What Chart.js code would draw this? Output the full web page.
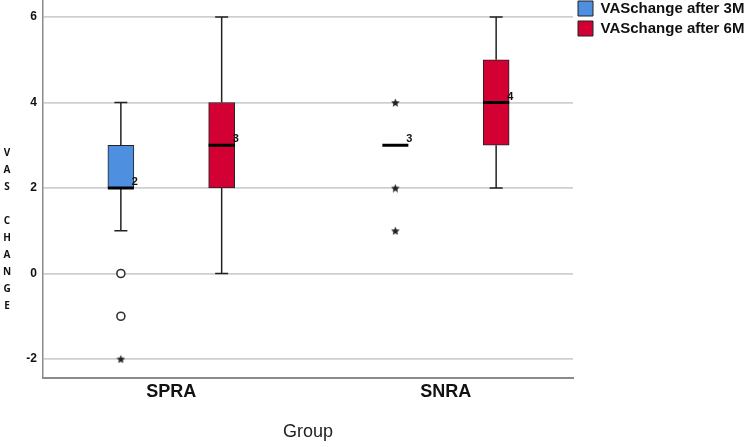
<!DOCTYPE html>
<html>
<head>
<meta charset="utf-8">
<script src="https://cdn.jsdelivr.net/npm/chart.js@4/dist/chart.umd.min.js"></script>
<style>
  html, body { margin: 0; padding: 0; background: #fff; }
  #wrap { width: 750px; height: 447px; }
</style>
</head>
<body>
<div id="wrap"><canvas id="chart-vas-change"></canvas></div>
<script>
// groups and series
const groups = ['SPRA', 'SNRA'];
const seriesNames = ['VASchange after 3M', 'VASchange after 6M'];

// box plot summary
const whiskerLow3M = [1, 3];
const q1_3M = [2, 3];
const median3M = [2, 3];
const q3_3M = [3, 3];
const whiskerHigh3M = [4, 3];

const whiskerLow6M = [0, 2];
const q1_6M = [2, 3];
const median6M = [3, 4];
const q3_6M = [4, 5];
const whiskerHigh6M = [6, 6];

// outliers (circles) and extremes (stars), per group
const outliers3M = [[0, -1], []];
const extremes3M = [[-2], [4, 2, 1]];

// the little numbers SPSS prints next to the medians
const medianLabels3M = ['2', '3'];
const medianLabels6M = ['3', '4'];

const yTicks = [-2, 0, 2, 4, 6];
const yTitle = 'VAS CHANGE';
const xTitle = 'Group';

const boxColors = ['#4f8fe0', '#d30034'];
const groupOffset = 0.1836; // each box sits this far left / right of the group centre

function boxData(lo, hi, shift) {
  return groups.map((g, i) => ({ x: i + 1 + shift, y: [lo[i], hi[i]] }));
}

function pointData(list, shift) {
  const out = [];
  list.forEach((vals, i) => vals.forEach(v => out.push({ x: i + 1 + shift, y: v })));
  return out;
}

// five point star for the extreme values
function makeStar(size) {
  const c = document.createElement('canvas');
  c.width = size;
  c.height = size;
  const g = c.getContext('2d');
  const r = size / 2, ri = r * 0.45;
  g.beginPath();
  for (let k = 0; k < 10; k++) {
    const rad = k % 2 ? ri : r;
    const a = -Math.PI / 2 + k * Math.PI / 5;
    g.lineTo(r + rad * Math.cos(a), r + 0.5 + rad * Math.sin(a));
  }
  g.closePath();
  g.fillStyle = '#222';
  g.fill();
  return c;
}
const starImg = makeStar(9);

const boxParts = {
  id: 'boxParts',
  afterDatasetsDraw(chart) {
    const { ctx } = chart;
    const y = chart.scales.y;
    const sets = [
      { meta: chart.getDatasetMeta(0), lo: whiskerLow3M, q1: q1_3M, md: median3M, q3: q3_3M, hi: whiskerHigh3M, lab: medianLabels3M },
      { meta: chart.getDatasetMeta(1), lo: whiskerLow6M, q1: q1_6M, md: median6M, q3: q3_6M, hi: whiskerHigh6M, lab: medianLabels6M },
    ];
    ctx.save();
    sets.forEach(s => {
      s.meta.data.forEach((bar, i) => {
        const cx = bar.x;
        const half = bar.width / 2;
        const cap = bar.width / 4;
        ctx.strokeStyle = '#222';
        ctx.lineWidth = 1.5;
        ctx.beginPath();
        if (s.hi[i] > s.q3[i]) {
          ctx.moveTo(cx, y.getPixelForValue(s.q3[i]));
          ctx.lineTo(cx, y.getPixelForValue(s.hi[i]));
          ctx.moveTo(cx - cap, y.getPixelForValue(s.hi[i]));
          ctx.lineTo(cx + cap, y.getPixelForValue(s.hi[i]));
        }
        if (s.lo[i] < s.q1[i]) {
          ctx.moveTo(cx, y.getPixelForValue(s.q1[i]));
          ctx.lineTo(cx, y.getPixelForValue(s.lo[i]));
          ctx.moveTo(cx - cap, y.getPixelForValue(s.lo[i]));
          ctx.lineTo(cx + cap, y.getPixelForValue(s.lo[i]));
        }
        ctx.stroke();

        const my = y.getPixelForValue(s.md[i]);
        ctx.strokeStyle = '#000';
        ctx.lineWidth = 3;
        ctx.beginPath();
        ctx.moveTo(cx - half, my);
        ctx.lineTo(cx + half, my);
        ctx.stroke();

        ctx.fillStyle = '#111';
        ctx.font = 'bold 11px "Liberation Sans", Arial, sans-serif';
        ctx.textAlign = 'left';
        ctx.textBaseline = 'alphabetic';
        ctx.fillText(s.lab[i], cx + half - 2, my - 3);
      });
    });

    // stacked letters of the y axis title
    ctx.fillStyle = '#111';
    ctx.font = 'bold 10px "Open Sans", sans-serif';
    ctx.textAlign = 'center';
    ctx.textBaseline = 'middle';
    yTitle.split('').forEach((ch, k) => ctx.fillText(ch, 7, 153.5 + k * 17));
    ctx.restore();
  }
};

new Chart(document.getElementById('chart-vas-change'), {
  type: 'bar',
  data: {
    datasets: [
      {
        label: seriesNames[0],
        data: boxData(q1_3M, q3_3M, -groupOffset),
        backgroundColor: boxColors[0],
        borderColor: '#222',
        borderWidth: 1,
        borderSkipped: false,
        barThickness: 26,
        grouped: false,
      },
      {
        label: seriesNames[1],
        data: boxData(q1_6M, q3_6M, groupOffset),
        backgroundColor: boxColors[1],
        borderColor: '#222',
        borderWidth: 1,
        borderSkipped: false,
        barThickness: 26,
        grouped: false,
      },
      {
        type: 'scatter',
        label: 'outliers',
        data: pointData(outliers3M, -groupOffset),
        pointStyle: 'circle',
        pointRadius: 4,
        pointBorderWidth: 1.6,
        pointBorderColor: '#333',
        pointBackgroundColor: '#fff',
      },
      {
        type: 'scatter',
        label: 'extremes',
        data: pointData(extremes3M, -groupOffset),
        pointStyle: starImg,
      },
    ]
  },
  options: {
    responsive: true,
    maintainAspectRatio: false,
    animation: false,
    layout: { autoPadding: false, padding: { top: -4, left: 0, right: 0, bottom: 0 } },
    plugins: {
      tooltip: { enabled: false },
      legend: {
        position: 'right',
        align: 'start',
        maxWidth: 177,
        labels: {
          boxWidth: 15,
          boxHeight: 15,
          padding: 5,
          color: '#111',
          font: { family: '"Liberation Sans", Arial, sans-serif', size: 15, weight: 'bold' },
          filter: item => item.datasetIndex < 2,
        },
      },
    },
    scales: {
      x: {
        type: 'linear',
        offset: false,
        min: 0.5327,
        max: 2.4636,
        afterBuildTicks(scale) { scale.ticks = groups.map((g, i) => ({ value: i + 1 })); },
        afterFit(scale) {
          scale.height = 69.5;
          scale.paddingLeft = 0;
          scale.paddingRight = 0;
        },
        grid: { display: false, drawTicks: false, offset: false },
        border: { display: true, color: '#8a8a8a', width: 2 },
        ticks: {
          padding: 4,
          color: '#111',
          font: { family: '"Liberation Sans", Arial, sans-serif', size: 18, weight: 'bold' },
          callback: v => groups[v - 1],
        },
        title: {
          display: true,
          text: xTitle,
          color: '#222',
          padding: { top: 0, bottom: 4 },
          font: { family: '"Liberation Sans", Arial, sans-serif', size: 18 },
        },
      },
      y: {
        min: -2.433,
        max: 6.398,
        afterBuildTicks(scale) { scale.ticks = yTicks.map(v => ({ value: v })); },
        afterFit(scale) {
          scale.width = 43;
          scale.paddingTop = 0;
          scale.paddingBottom = 0;
        },
        grid: { color: '#cfcfcf', lineWidth: 1.8, drawTicks: false },
        border: { display: true, color: '#8a8a8a', width: 1.5 },
        ticks: {
          padding: 6,
          color: '#111',
          font: { family: '"Liberation Sans", Arial, sans-serif', size: 12, weight: 'bold' },
        },
      },
    },
  },
  plugins: [boxParts],
});
</script>
</body>
</html>
